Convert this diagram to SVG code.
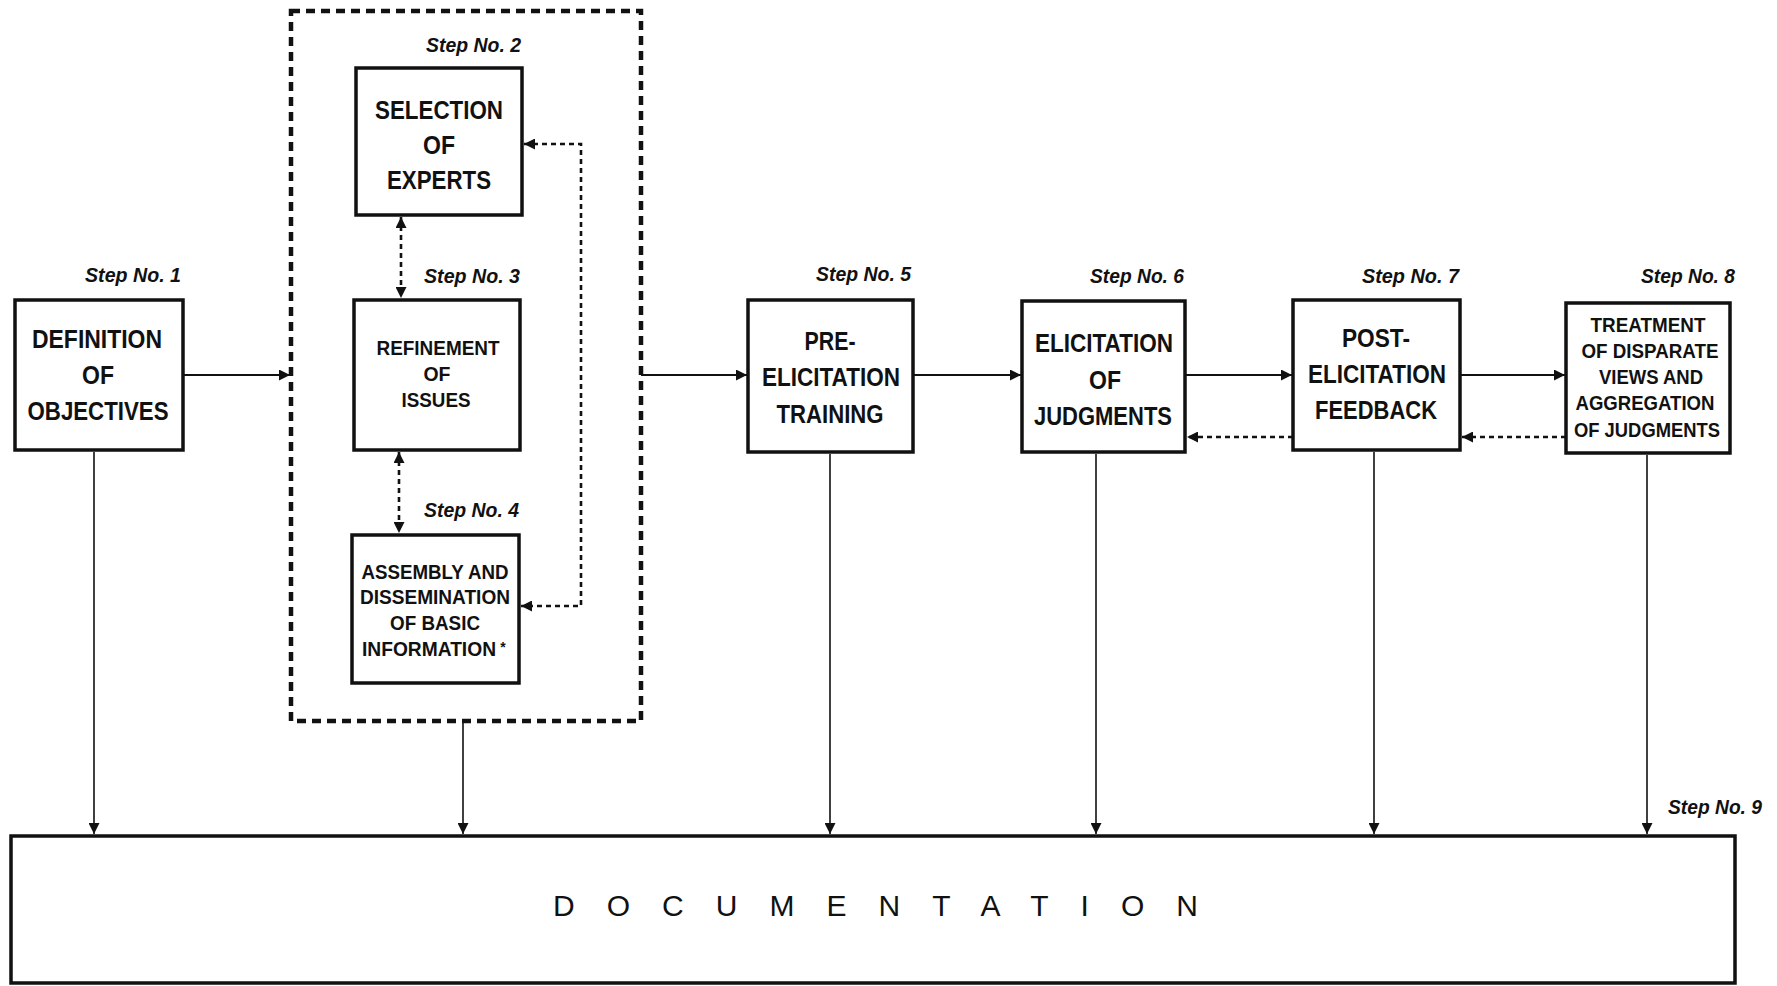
<svg xmlns="http://www.w3.org/2000/svg" width="1777" height="986" viewBox="0 0 1777 986">
<style>
.box{fill:#fff;stroke:#111;stroke-width:3.5}
.t{font-family:"Liberation Sans",Arial,Helvetica,sans-serif;font-weight:bold;fill:#111;text-anchor:middle}
.big{font-size:25px}
.small{font-size:20px}
.step{font-family:"Liberation Sans",Arial,Helvetica,sans-serif;font-style:italic;font-weight:bold;font-size:21px;fill:#111}
.solid{stroke:#111;stroke-width:2.2;fill:none}
.thin{stroke:#111;stroke-width:1.6;fill:none}
.dot{stroke:#111;stroke-width:2.6;stroke-dasharray:5 4;fill:none}
.cont{fill:none;stroke:#111;stroke-width:4.5;stroke-dasharray:9 6}
.doc{font-family:"Liberation Sans",Arial,Helvetica,sans-serif;font-size:30px;fill:#111}
</style>
<defs>
<marker id="ah" viewBox="0 0 10 10" refX="10" refY="5" markerWidth="13" markerHeight="11" markerUnits="userSpaceOnUse" orient="auto-start-reverse">
<path d="M0,0 L10,5 L0,10 z" fill="#111"/>
</marker>
</defs>
<rect width="1777" height="986" fill="#fff"/>

<g id="container">
<rect class="cont" x="291" y="11" width="350" height="710"/>
</g>

<g id="step1">
<rect class="box" x="15" y="300" width="168" height="150"/>
<text class="step" x="85" y="282" textLength="96" lengthAdjust="spacingAndGlyphs">Step No. 1</text>
<text class="t big" x="97" y="348" textLength="130" lengthAdjust="spacingAndGlyphs">DEFINITION</text>
<text class="t big" x="98" y="384" textLength="32" lengthAdjust="spacingAndGlyphs">OF</text>
<text class="t big" x="98" y="420" textLength="141" lengthAdjust="spacingAndGlyphs">OBJECTIVES</text>
</g>

<g id="step2">
<rect class="box" x="356" y="68" width="166" height="147"/>
<text class="step" x="426" y="52" textLength="95" lengthAdjust="spacingAndGlyphs">Step No. 2</text>
<text class="t big" x="439" y="119" textLength="128" lengthAdjust="spacingAndGlyphs">SELECTION</text>
<text class="t big" x="439" y="154" textLength="32" lengthAdjust="spacingAndGlyphs">OF</text>
<text class="t big" x="439" y="189" textLength="104" lengthAdjust="spacingAndGlyphs">EXPERTS</text>
</g>

<g id="step3">
<rect class="box" x="354" y="300" width="166" height="150"/>
<text class="step" x="424" y="283" textLength="96" lengthAdjust="spacingAndGlyphs">Step No. 3</text>
<text class="t small" x="438" y="355" textLength="123" lengthAdjust="spacingAndGlyphs">REFINEMENT</text>
<text class="t small" x="437" y="381" textLength="27" lengthAdjust="spacingAndGlyphs">OF</text>
<text class="t small" x="436" y="407" textLength="69" lengthAdjust="spacingAndGlyphs">ISSUES</text>
</g>

<g id="step4">
<rect class="box" x="352" y="535" width="167" height="148"/>
<text class="step" x="424" y="517" textLength="95" lengthAdjust="spacingAndGlyphs">Step No. 4</text>
<text class="t small" x="435" y="579" textLength="147" lengthAdjust="spacingAndGlyphs">ASSEMBLY AND</text>
<text class="t small" x="435" y="604" textLength="150" lengthAdjust="spacingAndGlyphs">DISSEMINATION</text>
<text class="t small" x="435" y="630" textLength="90" lengthAdjust="spacingAndGlyphs">OF BASIC</text>
<text class="t small" x="429" y="656" textLength="134" lengthAdjust="spacingAndGlyphs">INFORMATION</text>
<text class="t" x="503" y="652" font-size="14">*</text>
</g>

<g id="step5">
<rect class="box" x="748" y="300" width="165" height="152"/>
<text class="step" x="816" y="281" textLength="95" lengthAdjust="spacingAndGlyphs">Step No. 5</text>
<text class="t big" x="830" y="350" textLength="51" lengthAdjust="spacingAndGlyphs">PRE-</text>
<text class="t big" x="831" y="386" textLength="138" lengthAdjust="spacingAndGlyphs">ELICITATION</text>
<text class="t big" x="830" y="423" textLength="107" lengthAdjust="spacingAndGlyphs">TRAINING</text>
</g>

<g id="step6">
<rect class="box" x="1022" y="301" width="163" height="151"/>
<text class="step" x="1090" y="283" textLength="94" lengthAdjust="spacingAndGlyphs">Step No. 6</text>
<text class="t big" x="1104" y="352" textLength="138" lengthAdjust="spacingAndGlyphs">ELICITATION</text>
<text class="t big" x="1105" y="389" textLength="32" lengthAdjust="spacingAndGlyphs">OF</text>
<text class="t big" x="1103" y="425" textLength="138" lengthAdjust="spacingAndGlyphs">JUDGMENTS</text>
</g>

<g id="step7">
<rect class="box" x="1293" y="300" width="167" height="150"/>
<text class="step" x="1362" y="283" textLength="97" lengthAdjust="spacingAndGlyphs">Step No. 7</text>
<text class="t big" x="1376" y="347" textLength="68" lengthAdjust="spacingAndGlyphs">POST-</text>
<text class="t big" x="1377" y="383" textLength="138" lengthAdjust="spacingAndGlyphs">ELICITATION</text>
<text class="t big" x="1376" y="419" textLength="122" lengthAdjust="spacingAndGlyphs">FEEDBACK</text>
</g>

<g id="step8">
<rect class="box" x="1566" y="303" width="164" height="150"/>
<text class="step" x="1641" y="283" textLength="94" lengthAdjust="spacingAndGlyphs">Step No. 8</text>
<text class="t small" x="1648" y="332" textLength="115" lengthAdjust="spacingAndGlyphs">TREATMENT</text>
<text class="t small" x="1650" y="358" textLength="137" lengthAdjust="spacingAndGlyphs">OF DISPARATE</text>
<text class="t small" x="1651" y="384" textLength="104" lengthAdjust="spacingAndGlyphs">VIEWS AND</text>
<text class="t small" x="1645" y="410" textLength="139" lengthAdjust="spacingAndGlyphs">AGGREGATION</text>
<text class="t small" x="1647" y="437" textLength="146" lengthAdjust="spacingAndGlyphs">OF JUDGMENTS</text>
</g>

<g id="step9">
<rect class="box" x="11" y="836" width="1724" height="147" stroke-width="3"/>
<text class="step" x="1668" y="814" textLength="94" lengthAdjust="spacingAndGlyphs">Step No. 9</text>
<text class="doc" x="553" y="916" textLength="645" lengthAdjust="spacing">DOCUMENTATION</text>
</g>

<g id="connectors">
<line class="solid" x1="183" y1="375" x2="290" y2="375" marker-end="url(#ah)"/>
<line class="solid" x1="641" y1="375" x2="747" y2="375" marker-end="url(#ah)"/>
<line class="solid" x1="913" y1="375" x2="1021" y2="375" marker-end="url(#ah)"/>
<line class="solid" x1="1185" y1="375" x2="1292" y2="375" marker-end="url(#ah)"/>
<line class="solid" x1="1460" y1="375" x2="1565" y2="375" marker-end="url(#ah)"/>

<line class="dot" x1="1293" y1="437" x2="1187" y2="437" marker-end="url(#ah)"/>
<line class="dot" x1="1566" y1="437" x2="1462" y2="437" marker-end="url(#ah)"/>

<line class="dot" x1="401" y1="217" x2="401" y2="298" marker-start="url(#ah)" marker-end="url(#ah)"/>
<line class="dot" x1="399" y1="452" x2="399" y2="533" marker-start="url(#ah)" marker-end="url(#ah)"/>
<polyline class="dot" points="524,144 581,144 581,606 521,606" marker-start="url(#ah)" marker-end="url(#ah)"/>

<line class="thin" x1="94" y1="452" x2="94" y2="834" marker-end="url(#ah)"/>
<line class="thin" x1="463" y1="723" x2="463" y2="834" marker-end="url(#ah)"/>
<line class="thin" x1="830" y1="454" x2="830" y2="834" marker-end="url(#ah)"/>
<line class="thin" x1="1096" y1="454" x2="1096" y2="834" marker-end="url(#ah)"/>
<line class="thin" x1="1374" y1="452" x2="1374" y2="834" marker-end="url(#ah)"/>
<line class="thin" x1="1647" y1="455" x2="1647" y2="834" marker-end="url(#ah)"/>
</g>
</svg>
